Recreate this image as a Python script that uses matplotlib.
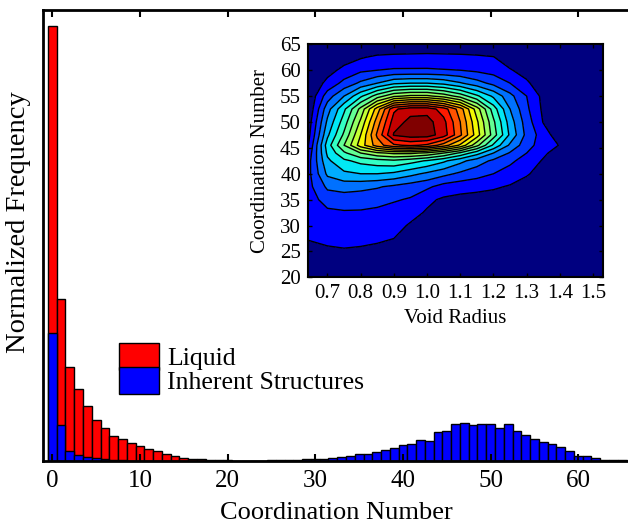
import numpy as np
import matplotlib
matplotlib.use("Agg")
import matplotlib.pyplot as plt
from matplotlib.ticker import FormatStrFormatter

plt.rcParams['font.family'] = ['Liberation Serif', 'DejaVu Serif']

# --- coordination number histograms (normalized frequency) ---
coord = np.arange(66)
liquid = [0.4354, 0.162, 0.094, 0.072, 0.0554, 0.0417, 0.0337, 0.0257, 0.022, 0.0184,
          0.0154, 0.0127, 0.010, 0.007, 0.005, 0.0035, 0.0025, 0.002, 0.0015, 0.0012,
          0.001, 0.0008, 0.0006, 0.0005, 0.0004, 0.0003, 0.0002, 0.0002, 0.0001, 0.0001,
          0, 0, 0, 0, 0, 0, 0, 0, 0, 0,
          0, 0, 0, 0, 0, 0, 0, 0, 0, 0,
          0, 0, 0, 0, 0, 0, 0, 0, 0, 0,
          0, 0, 0, 0, 0, 0]
inherent = [0.1284, 0.036, 0.0107, 0.006, 0.0044, 0.0037, 0.002, 0.0015, 0.001, 0.0007,
            0.0005, 0.0004, 0.0003, 0.0003, 0.0003, 0.0003, 0.0003, 0.0003, 0.0003, 0.0003,
            0.0003, 0.0003, 0.0003, 0.0005, 0.0007, 0.001, 0.001, 0.0013, 0.0017, 0.002,
            0.0023, 0.0027, 0.0033, 0.004, 0.005, 0.0077, 0.0077, 0.0093, 0.011, 0.013,
            0.0167, 0.0177, 0.021, 0.0207, 0.0297, 0.0303, 0.037, 0.0387, 0.036, 0.0373,
            0.037, 0.033, 0.0373, 0.030, 0.0263, 0.0227, 0.019, 0.0173, 0.0143, 0.0103,
            0.005, 0.0053, 0.0032, 0.0013, 0.0012, 0.001]

# --- joint distribution of void radius and coordination number ---
void_r = [0.64, 0.70, 0.75, 0.80, 0.85, 0.90, 0.95, 1.00, 1.05, 1.10,
          1.15, 1.20, 1.25, 1.30, 1.35, 1.40, 1.45, 1.50]
coord_n = [20, 22.5, 25, 27.5, 30, 32.5, 35, 37.5, 40, 42.5,
           44, 45.5, 47.5, 50, 52.5, 55, 57.5, 60, 62.5, 65]
density = [
    [0] * 18,
    [0] * 18,
    [0.3, 0.7, 0.85, 0.75, 0.5, 0.2, 0, 0, 0, 0, 0, 0, 0, 0, 0, 0, 0, 0],
    [1.1, 1.4, 1.45, 1.4, 1.3, 1.0, 0.7, 0.3, 0, 0, 0, 0, 0, 0, 0, 0, 0, 0],
    [1.3, 1.5, 1.6, 1.6, 1.5, 1.3, 0.9, 0.7, 0.3, 0, 0, 0, 0, 0, 0, 0, 0, 0],
    [1.4, 1.8, 1.9, 1.9, 1.8, 1.6, 1.3, 0.9, 0.6, 0.4, 0.3, 0.2, 0, 0, 0, 0, 0, 0],
    [1.5, 2.4, 2.5, 2.4, 2.3, 2.1, 1.9, 1.2, 0.85, 0.7, 0.6, 0.5, 0.35, 0.15, 0, 0, 0, 0],
    [1.6, 3.2, 3.4, 3.3, 3.1, 2.8, 2.5, 2.2, 1.6, 1.4, 1.3, 1.15, 0.9, 0.6, 0.2, 0, 0, 0],
    [1.6, 4.2, 4.8, 5.0, 5.0, 4.8, 4.3, 3.8, 3.3, 2.8, 2.4, 2.0, 1.6, 1.1, 0.6, 0, 0, 0],
    [1.5, 4.8, 5.8, 6.3, 6.6, 6.8, 6.4, 5.9, 5.2, 4.3, 3.5, 2.8, 2.2, 1.6, 0.9, 0, 0, 0],
    [1.2, 5.2, 6.8, 8.0, 8.8, 9.2, 9.2, 8.8, 8.0, 6.8, 5.4, 4.0, 2.9, 2.0, 1.2, 0.5, 0, 0],
    [0.8, 5.5, 8.0, 10.5, 12.5, 13.8, 14.2, 13.8, 12.5, 10.8, 8.3, 5.8, 3.8, 2.4, 1.5, 0.95, 0, 0],
    [0.5, 4.8, 7.2, 10.0, 13.2, 16.1, 16.5, 16.5, 15.5, 13.2, 10.5, 7.5, 4.8, 2.7, 1.5, 0.4, 0, 0],
    [0.3, 4.2, 6.5, 9.2, 12.5, 15.5, 16.3, 16.4, 15.3, 13.0, 10.2, 7.2, 4.5, 2.5, 0.95, 0, 0, 0],
    [0.0, 3.6, 5.8, 8.3, 11.5, 14.8, 15.6, 15.6, 14.5, 12.5, 9.5, 6.5, 4.0, 2.2, 0.8, 0, 0, 0],
    [0.0, 2.5, 4.0, 5.8, 7.5, 8.8, 9.2, 9.2, 8.6, 7.6, 6.2, 4.8, 3.3, 2.0, 0.7, 0, 0, 0],
    [0.0, 1.3, 2.3, 3.2, 4.0, 4.8, 5.0, 5.0, 4.7, 4.1, 3.4, 2.7, 2.0, 1.2, 0.2, 0, 0, 0],
    [0.0, 0.6, 1.3, 1.8, 2.0, 2.1, 2.1, 2.1, 2.05, 2.0, 1.8, 1.6, 1.1, 0.5, 0, 0, 0, 0],
    [0.0, 0.0, 0.5, 0.9, 1.2, 1.3, 1.35, 1.4, 1.35, 1.3, 1.2, 1.05, 0.3, 0, 0, 0, 0, 0],
    [0] * 18,
]

fig = plt.figure(figsize=(6.28, 5.27), dpi=100)

# main histogram
ax = fig.add_axes([0.068, 0.1243, 0.9366, 0.857])
ax.bar(coord, liquid, width=1.0, color='#ff0000', edgecolor='black', lw=1.0, label='Liquid')
ax.bar(coord, inherent, width=1.0, color='#0000ff', edgecolor='black', lw=1.0,
       label='Inherent Structures')
ax.set_xlim(-1.1, 66)
ax.set_ylim(0, 0.4515)
ax.set_xticks(range(0, 61, 10))
ax.set_yticks([])
ax.tick_params(axis='x', direction='in', top=True, length=5, width=1.5,
               labelsize=18, pad=6)
for s in ax.spines.values():
    s.set_linewidth(2)
ax.set_xlabel('Coordination Number', fontsize=19, labelpad=7)
ax.set_ylabel('Normalized Frequency', fontsize=20.5)
ax.yaxis.set_label_coords(-0.02, 0.53)
ax.legend(loc='upper left', bbox_to_anchor=(0.13, 0.262), frameon=False, fontsize=18.5,
          handlelength=1.56, handleheight=1.2, handletextpad=0.3, labelspacing=-0.1,
          borderpad=0, borderaxespad=0)

# inset: void radius vs coordination number
jet = plt.get_cmap('jet')
levels = [-1] + list(range(1, 17)) + [30]
band_colors = [jet(0.0)] + [jet(0.12 + 0.88 * (k - 1) / 15) for k in range(1, 17)]

ax2 = fig.add_axes([0.4904, 0.4738, 0.4693, 0.4421])
ax2.set_facecolor(jet(0.0))
ax2.contourf(void_r, coord_n, density, levels=levels, colors=band_colors)
ax2.contour(void_r, coord_n, density, levels=levels[1:-1], colors='black', linewidths=1.0)
ax2.set_xlim(0.6413, 1.529)
ax2.set_ylim(20, 65)
ax2.set_xticks(np.arange(0.7, 1.51, 0.1))
ax2.set_yticks(range(20, 66, 5))
ax2.xaxis.set_major_formatter(FormatStrFormatter('%.1f'))
ax2.tick_params(direction='in', top=True, right=True, length=3, width=1,
                labelsize=15, pad=5)
for s in ax2.spines.values():
    s.set_linewidth(1.5)
ax2.set_xlabel('Void Radius', fontsize=15, labelpad=4)
ax2.set_ylabel('Coordination Number', fontsize=15, labelpad=7)

fig.savefig('out.png', dpi=100)
